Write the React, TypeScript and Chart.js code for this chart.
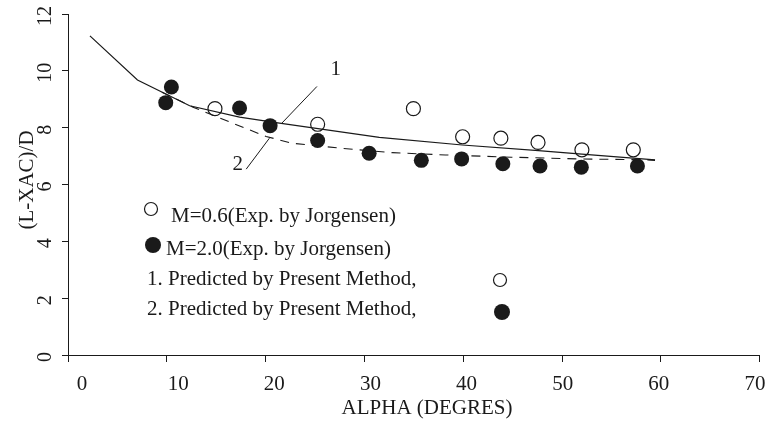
import React, { useEffect, useRef } from "react";
import Chart from "chart.js/auto";

// M=0.6 experimental (open circles)
const openX = [14.87, 25.26, 34.95, 39.93, 43.8, 47.56, 52.0, 57.2];
const openY = [8.67, 8.12, 8.67, 7.68, 7.63, 7.48, 7.22, 7.22];
// M=2.0 experimental (filled circles)
const filledX = [9.89, 10.46, 17.36, 20.45, 25.26, 30.47, 35.75, 39.83, 44.0, 47.76, 51.94, 57.62];
const filledY = [8.88, 9.43, 8.69, 8.07, 7.55, 7.1, 6.85, 6.9, 6.73, 6.65, 6.61, 6.65];
// Curve 1 (solid)
const curve1X = [2.22, 7.03, 12.31, 17.36, 21.4, 31.5, 39.9, 47.6, 52.0, 59.4];
const curve1Y = [11.23, 9.68, 8.77, 8.37, 8.16, 7.66, 7.39, 7.19, 7.07, 6.87];
// Curve 2 (dashed)
const curve2X = [9.5, 12.65, 16.0, 20.05, 22.7, 27.8, 32.8, 38.2, 44.9, 51.7, 58.4, 59.4];
const curve2Y = [9.25, 8.72, 8.25, 7.69, 7.45, 7.27, 7.12, 7.04, 6.96, 6.9, 6.87, 6.85];
// Annotation leader lines
const leader1X = [25.19, 21.56];
const leader1Y = [9.45, 8.13];
const label1At = [27.1, 10.06];
const leader2X = [18.03, 20.38];
const leader2Y = [6.54, 7.63];
const label2At = [17.18, 6.69];

const xTitle = "ALPHA (DEGRES)";
const yTitle = "(L-XAC)/D";
const legendTexts = [
  "M=0.6(Exp. by Jorgensen)",
  "M=2.0(Exp. by Jorgensen)",
  "1. Predicted by Present Method,",
  "2. Predicted by Present Method,",
];

const INK = "#1a1a1a";
const FONT = "Liberation Serif, Times New Roman, serif";

const pts = (xs: number[], ys: number[]) => xs.map((x, i) => ({ x, y: ys[i] }));

const overlay = {
  id: "overlay",
  afterDraw(chart: any) {
    const ctx = chart.ctx;
    const xs = chart.scales.x;
    const ys = chart.scales.y;
    const area = chart.chartArea;
    ctx.save();
    ctx.fillStyle = INK;
    ctx.strokeStyle = INK;

    // y tick labels (rotated)
    ctx.font = `20px ${FONT}`;
    ctx.textAlign = "center";
    ctx.textBaseline = "middle";
    ys.ticks.forEach((t: any) => {
      const py = ys.getPixelForValue(t.value);
      ctx.save();
      ctx.translate(46, py + 2);
      ctx.rotate(-Math.PI / 2);
      ctx.fillText(String(t.value), 0, 0);
      ctx.restore();
    });

    // x tick labels (spread slightly narrower than the ticks, as in the source)
    ctx.font = `21px ${FONT}`;
    xs.ticks.forEach((t: any) => {
      const px = xs.getPixelForValue(t.value);
      const lx = 82 + (px - area.left) * ((755 - 82) / (area.right - area.left));
      ctx.fillText(String(t.value), lx, 384);
    });

    // y title
    ctx.font = `21px ${FONT}`;
    ctx.save();
    ctx.translate(27, 180);
    ctx.rotate(-Math.PI / 2);
    ctx.fillText(yTitle, 0, 0);
    ctx.restore();

    // x title
    ctx.fillText(xTitle, 427, 408);

    // leader lines
    ctx.lineWidth = 1;
    const seg = (ax: number[], ay: number[]) => {
      ctx.beginPath();
      ctx.moveTo(xs.getPixelForValue(ax[0]), ys.getPixelForValue(ay[0]));
      ctx.lineTo(xs.getPixelForValue(ax[1]), ys.getPixelForValue(ay[1]));
      ctx.stroke();
    };
    seg(leader1X, leader1Y);
    seg(leader2X, leader2Y);
    ctx.font = `21px ${FONT}`;
    ctx.fillText("1", xs.getPixelForValue(label1At[0]), ys.getPixelForValue(label1At[1]));
    ctx.fillText("2", xs.getPixelForValue(label2At[0]), ys.getPixelForValue(label2At[1]));

    // legend block
    const circ = (cx: number, cy: number, r: number, filled: boolean) => {
      ctx.beginPath();
      ctx.arc(cx, cy, r, 0, Math.PI * 2);
      if (filled) {
        ctx.fillStyle = INK;
        ctx.fill();
      } else {
        ctx.fillStyle = "#fff";
        ctx.fill();
        ctx.lineWidth = 1.2;
        ctx.stroke();
      }
      ctx.fillStyle = INK;
    };
    ctx.textAlign = "left";
    ctx.font = `21px ${FONT}`;
    circ(151, 209, 6.5, false);
    ctx.fillText(legendTexts[0], 171, 216);
    circ(153, 245, 8, true);
    ctx.fillText(legendTexts[1], 166, 249);
    ctx.fillText(legendTexts[2], 147, 279);
    circ(500, 280, 6.5, false);
    ctx.fillText(legendTexts[3], 147, 309);
    circ(502, 312, 8, true);

    ctx.restore();
  },
};

export default function App() {
  const ref = useRef<HTMLCanvasElement | null>(null);
  useEffect(() => {
    document.body.style.margin = "0";
    if (!ref.current) return;
    const chart = new Chart(ref.current, {
      type: "scatter",
      data: {
        datasets: [
          {
            type: "line",
            data: pts(curve1X, curve1Y),
            borderColor: INK,
            borderWidth: 1.2,
            pointRadius: 0,
            fill: false,
            tension: 0,
          },
          {
            type: "line",
            data: pts(curve2X, curve2Y),
            borderColor: INK,
            borderWidth: 1.1,
            borderDash: [9, 7],
            pointRadius: 0,
            fill: false,
            tension: 0,
          },
          {
            data: pts(openX, openY),
            pointRadius: 7,
            pointBackgroundColor: "#ffffff",
            pointBorderColor: INK,
            pointBorderWidth: 1.2,
            showLine: false,
          },
          {
            data: pts(filledX, filledY),
            pointRadius: 7.5,
            pointBackgroundColor: INK,
            pointBorderColor: INK,
            pointBorderWidth: 0,
            showLine: false,
          },
        ],
      },
      options: {
        responsive: false,
        animation: false,
        layout: { padding: { top: 14, right: 6, left: 0, bottom: 0 } },
        plugins: { legend: { display: false }, tooltip: { enabled: false } },
        scales: {
          x: {
            type: "linear",
            min: 0,
            max: 70,
            ticks: { stepSize: 10, display: false },
            grid: {
              drawOnChartArea: false,
              drawTicks: true,
              tickLength: 7,
              color: INK,
            },
            border: { display: true, color: INK, width: 1 },
            afterFit: (s: any) => {
              s.height = 68;
              s.paddingLeft = 0;
              s.paddingRight = 0;
            },
          },
          y: {
            type: "linear",
            min: 0,
            max: 12,
            ticks: { stepSize: 2, display: false },
            grid: {
              drawOnChartArea: false,
              drawTicks: true,
              tickLength: 6,
              color: INK,
            },
            border: { display: true, color: INK, width: 1 },
            afterFit: (s: any) => {
              s.width = 68;
              s.paddingTop = 0;
              s.paddingBottom = 0;
            },
          },
        },
      },
      plugins: [overlay],
    });
    return () => chart.destroy();
  }, []);
  return (
    <div style={{ position: "absolute", left: 0, top: 0, width: 768, height: 423, background: "#fff" }}>
      <canvas ref={ref} width={768} height={423} />
    </div>
  );
}
